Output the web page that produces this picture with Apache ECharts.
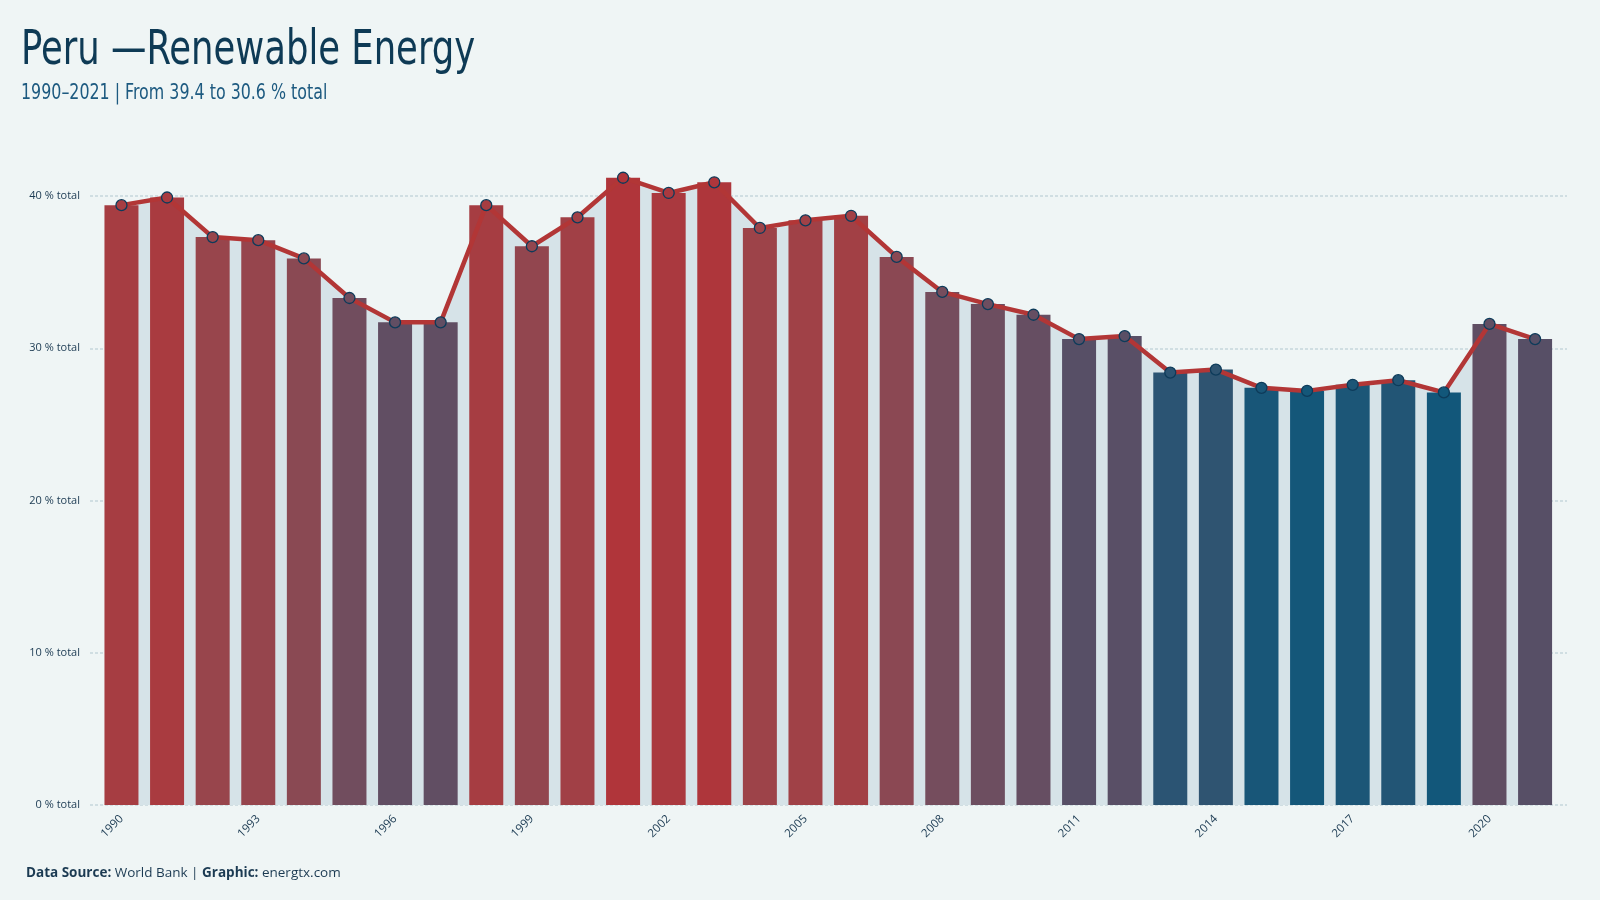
<!DOCTYPE html>
<html><head><meta charset="utf-8">
<script src="https://cdn.jsdelivr.net/npm/echarts@6/dist/echarts.min.js"></script>
<style>html,body{margin:0;background:#eff5f5}#c{width:1600px;height:900px}</style>
</head><body><div id="c"></div>
<script>
const years = [1990,1991,1992,1993,1994,1995,1996,1997,1998,1999,2000,2001,2002,2003,2004,2005,2006,2007,2008,2009,2010,2011,2012,2013,2014,2015,2016,2017,2018,2019,2020,2021];
const values = [39.4,39.9,37.3,37.1,35.9,33.3,31.7,31.7,39.4,36.7,38.6,41.2,40.2,40.9,37.9,38.4,38.7,36.0,33.7,32.9,32.2,30.6,30.8,28.4,28.6,27.4,27.2,27.6,27.9,27.1,31.6,30.6];
const xTickYears = [1990,1993,1996,1999,2002,2005,2008,2011,2014,2017,2020];
const yTicks = [0,10,20,30,40];
const titleText = 'Peru —Renewable Energy';
const subtitleText = '1990–2021 | From 39.4 to 30.6 % total';
const footerText = '{b|Data Source:} World Bank | {b|Graphic:} energtx.com';
const colorStops = ['#12577a','#574f66','#794d5c','#9c444a','#b0353a'];

const condensed = "'DejaVu Sans Condensed', 'Liberation Sans Narrow', Roboto";
const pairs = years.map((y,i)=>[y, values[i]]);
const chart = echarts.init(document.getElementById('c'), null, {renderer:'canvas'});
chart.setOption({
  backgroundColor:'#eff5f5',
  animation:false,
  graphic:[
    {type:'text', x:21, y:28, scaleX:0.82, style:{text:titleText, font:"normal 48px " + condensed, fill:'#0e3a55', align:'left', verticalAlign:'top'}},
    {type:'text', x:21, y:83, scaleX:0.84, style:{text:subtitleText, font:"normal 21px " + condensed, fill:'#1d5a80', align:'left', verticalAlign:'top'}}
  ],
  title:[
    {text:footerText, left:21, top:861, textStyle:{fontFamily:'Open Sans', fontSize:13.5, fontWeight:'normal', color:'#1b3a52',
      rich:{b:{fontFamily:'Open Sans', fontWeight:'bold', fontSize:13.5, color:'#1b3a52'}}}}
  ],
  grid:{left:90, right:33, top:196, bottom:95},
  xAxis:{type:'value', min:1989.31, max:2021.70,
    axisLine:{show:false}, axisTick:{show:false}, splitLine:{show:false},
    axisLabel:{customValues:xTickYears, rotate:45, formatter:v=>String(v), fontSize:11.5, color:'#1b3a52', margin:12, fontFamily:'Open Sans'}},
  yAxis:{type:'value', min:yTicks[0], max:yTicks[yTicks.length-1], interval:10,
    axisLine:{show:false}, axisTick:{show:false},
    splitLine:{lineStyle:{color:'#c6d6dc', type:[3,2], width:1.5}},
    axisLabel:{formatter:'{value} % total', fontSize:11, color:'#1b3a52', margin:10, fontFamily:'Open Sans'}},
  visualMap:{show:false, type:'continuous', seriesIndex:[1,3], dimension:1, min:27.1, max:41.2, inRange:{color:colorStops}},
  series:[
    {type:'line', data:pairs, symbol:'none', lineStyle:{width:0, opacity:0}, areaStyle:{color:'#d6e3e8', opacity:1}, z:1, clip:false, silent:true},
    {type:'bar', data:pairs, barWidth:34, z:2, clip:false},
    {type:'line', data:pairs, symbol:'none', lineStyle:{color:'#b23636', width:4.5}, z:3, clip:false},
    {type:'scatter', data:pairs, symbolSize:11, itemStyle:{borderColor:'#0d3b5a', borderWidth:1.3, opacity:1}, z:4, clip:false}
  ]
});
</script></body></html>
